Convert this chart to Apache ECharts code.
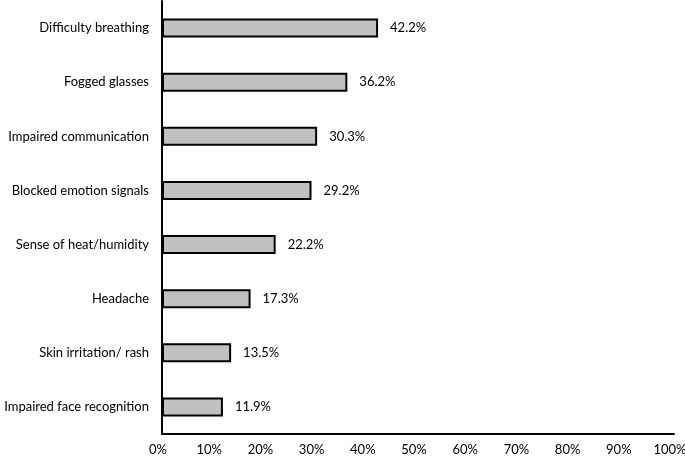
<!DOCTYPE html>
<html><head><meta charset="utf-8">
<script src="https://cdn.jsdelivr.net/npm/echarts@6/dist/echarts.min.js"></script>
<style>html,body{margin:0;padding:0;background:#fff}#c{width:685px;height:458px}</style>
</head><body><div id="c"></div>
<script>
const categories = ["Difficulty breathing","Fogged glasses","Impaired communication","Blocked emotion signals","Sense of heat/humidity","Headache","Skin irritation/ rash","Impaired face recognition"];
const values = [42.2, 36.2, 30.3, 29.2, 22.2, 17.3, 13.5, 11.9];
const xTicks = [0,10,20,30,40,50,60,70,80,90,100];
const font = "Lato, 'Open Sans', sans-serif";
const chart = echarts.init(document.getElementById('c'));
chart.setOption({
  animation: false,
  grid: {left: 162, right: 11, top: 1, bottom: 24, containLabel: false, outerBoundsMode: 'none'},
  xAxis: {type: 'value', min: 0, max: 100, interval: 10,
    axisLine: {show: true, lineStyle: {color: '#000', width: 2}},
    axisTick: {show: false}, splitLine: {show: false},
    axisLabel: {formatter: v => v + '%', color: '#000', fontSize: 13, fontFamily: font, margin: 9, padding: [0, 8, 0, 0]}},
  yAxis: {type: 'category', data: categories, inverse: true,
    axisLine: {show: true, lineStyle: {color: '#000', width: 2}},
    axisTick: {show: false},
    axisLabel: {color: '#000', fontSize: 13, fontFamily: font, margin: 13}},
  series: [{type: 'bar', data: values, barWidth: 19,
    itemStyle: {color: '#c0c0c0', borderColor: '#000', borderWidth: 2},
    label: {show: true, position: 'right', distance: 12, formatter: p => p.value.toFixed(1) + '%',
      color: '#000', fontSize: 13, fontFamily: font}}]
});
</script></body></html>
